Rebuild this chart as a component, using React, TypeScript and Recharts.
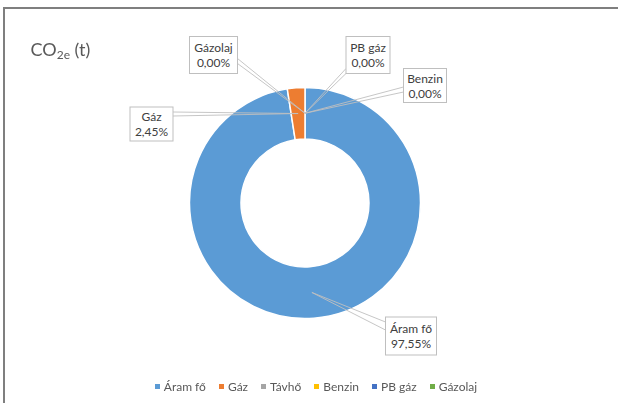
import { Cell, Legend, Pie, PieChart } from "recharts";

const categories = ["Áram fő", "Gáz", "Távhő", "Benzin", "PB gáz", "Gázolaj"];
const shares: (number | null)[] = [97.55, 2.45, null, 0, 0, 0];
const shareLabels = ["97,55%", "2,45%", "", "0,00%", "0,00%", "0,00%"];
const colors = ["#5B9BD5", "#ED7D31", "#A5A5A5", "#FFC000", "#4472C4", "#70AD47"];

// label box placement relative to the donut centre (Excel moved these by hand)
const labelLayout: Record<string, { dx: number; dy: number; w: number; h: number; ax: number; ay: number; spread: number }> = {
    "Áram fő": { dx: 106, dy: 133, w: 51, h: 38, ax: -25.5, ay: -10, spread: 8 },
    "Gáz": { dx: -153.5, dy: -79, w: 43, h: 34, ax: 21.5, ay: -10, spread: 4 },
    "Benzin": { dx: 120, dy: -117.5, w: 43, h: 34, ax: -21.5, ay: 4, spread: 5 },
    "PB gáz": { dx: 63, dy: -148, w: 44, h: 37, ax: -22, ay: 16, spread: 5 },
    "Gázolaj": { dx: -91.5, dy: -148, w: 48, h: 37, ax: 24, ay: 6, spread: 5 },
};

const FONT = "Lato, 'Liberation Sans', sans-serif";
const RAD = Math.PI / 180;

const pieData = categories.map((name, i) => ({ name, value: shares[i], fill: colors[i] }));

function renderLabel(props: any) {
    const { cx, cy, midAngle, innerRadius, outerRadius, index } = props;
    if (shares[index] == null) return null;
    const name = categories[index];
    const lay = labelLayout[name];
    if (!lay) return null;
    const r = (innerRadius + outerRadius) / 2;
    const px = cx + r * Math.cos(-midAngle * RAD);
    const py = cy + r * Math.sin(-midAngle * RAD);
    const bx = cx + lay.dx;
    const by = cy + lay.dy;
    const attX = bx + lay.ax;
    const attY = by + lay.ay;
    return (
        <g>
            <line x1={px} y1={py} x2={attX} y2={attY - lay.spread / 2} stroke="#BFBFBF" strokeWidth={0.9} />
            <line x1={px} y1={py} x2={attX} y2={attY + lay.spread / 2} stroke="#BFBFBF" strokeWidth={0.9} />
            <rect x={bx - lay.w / 2} y={by - lay.h / 2} width={lay.w} height={lay.h} fill="#fff" stroke="#BFBFBF" strokeWidth={1} />
            <text x={bx} y={by - 3} textAnchor="middle" fontSize={12} fontFamily={FONT} fill="#404040">{name}</text>
            <text x={bx} y={by + 12} textAnchor="middle" fontSize={12} fontFamily={FONT} fill="#404040">{shareLabels[index]}</text>
        </g>
    );
}

function renderLegend(props: any) {
    const payload = [...(props.payload || [])].sort(
        (a: any, b: any) => categories.indexOf(a.value) - categories.indexOf(b.value)
    );
    return (
        <div style={{ display: "flex", justifyContent: "center", gap: 13, fontFamily: FONT, fontSize: 12, color: "#595959" }}>
            {payload.map((p: any) => (
                <span key={p.value} style={{ display: "flex", alignItems: "center" }}>
                    <span style={{ width: 5, height: 5, background: p.color, marginRight: 4, display: "inline-block" }} />
                    {p.value}
                </span>
            ))}
        </div>
    );
}

export default function App() {
    return (
        <div style={{ position: "fixed", left: 0, top: 0, width: 618, height: 403, background: "#fff" }}>
            <PieChart width={618} height={403} margin={{ top: 0, right: 0, bottom: 0, left: 0 }}>
                <Pie
                    data={pieData}
                    dataKey="value"
                    nameKey="name"
                    cx={305}
                    cy={203}
                    innerRadius={64}
                    outerRadius={115.5}
                    startAngle={90}
                    endAngle={-270}
                    stroke="#fff"
                    strokeWidth={1.5}
                    label={renderLabel}
                    labelLine={false}
                    isAnimationActive={false}
                >
                    {pieData.map((d) => (
                        <Cell key={d.name} fill={d.fill} />
                    ))}
                </Pie>
                <Legend content={renderLegend} wrapperStyle={{ position: "absolute", top: 379, left: 7, width: 618 }} />
            </PieChart>
            <svg width={618} height={403} style={{ position: "absolute", left: 0, top: 0, pointerEvents: "none" }}>
                <text x={30.5} y={56} fontSize={18} fontFamily={FONT} fill="#595959">
                    CO<tspan fontSize={12} dy={3.3}>2e</tspan>
                    <tspan dy={-3.3}> (t)</tspan>
                </text>
            </svg>
            <div style={{ position: "absolute", left: 3, top: 7, width: 615, height: 2, background: "#7F7F7F", zIndex: 5 }} />
            <div style={{ position: "absolute", left: 3, top: 7, width: 2, height: 396, background: "#7F7F7F", zIndex: 5 }} />
        </div>
    );
}
